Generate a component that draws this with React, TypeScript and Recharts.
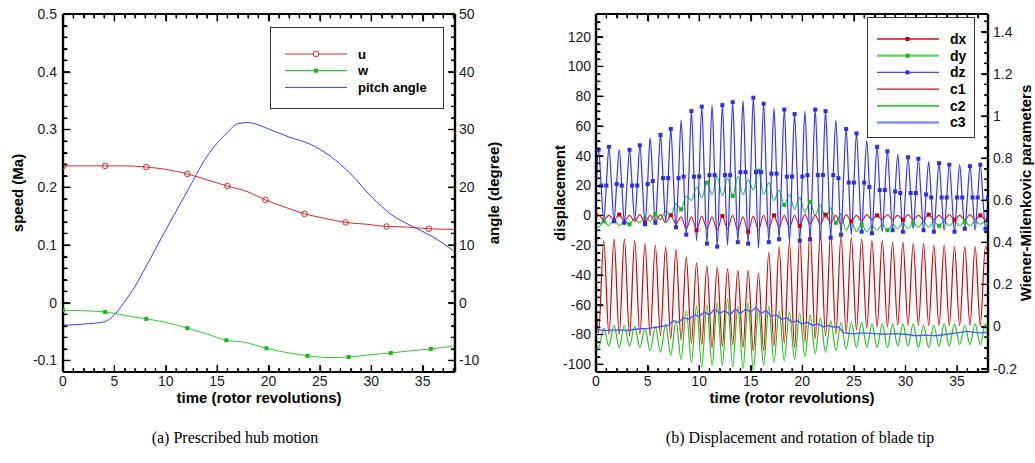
import { Line, LineChart, ReferenceLine, XAxis, YAxis } from 'recharts'

const SANS = '"Liberation Sans", Arial, Helvetica, sans-serif'
const SERIF = '"Liberation Serif", "Times New Roman", serif'

// ---------- (a) prescribed hub motion ----------
const U_T = [0, 2, 4.1, 6, 8.1, 10, 12.1, 14, 16, 18, 19.7, 22, 23.5, 25.5, 27.5, 29.5, 31.5, 33.5, 35.6, 38]
const U = [0.237, 0.237, 0.237, 0.237, 0.235, 0.231, 0.223, 0.213, 0.202, 0.192, 0.178, 0.163, 0.154, 0.146, 0.139, 0.136, 0.132, 0.131, 0.128, 0.127]
const W_T = [0, 2, 4.1, 6, 8.1, 10, 12.1, 14, 15.9, 17.5, 19.8, 22, 23.8, 26, 27.8, 30, 31.9, 34, 35.8, 38]
const W = [-0.013, -0.014, -0.016, -0.022, -0.028, -0.034, -0.044, -0.054, -0.065, -0.068, -0.079, -0.087, -0.092, -0.095, -0.094, -0.09, -0.087, -0.083, -0.08, -0.075]
const PITCH_T = [0, 2, 4, 5, 6, 7, 8, 10, 12, 14, 16, 17, 18, 19, 20, 22, 24, 26, 28, 30, 32, 34, 36, 38]
const PITCH = [-3.9, -3.7, -3.3, -2.1, 0.2, 2.8, 6.0, 12.6, 19.0, 25.3, 29.5, 31.0, 31.2, 30.8, 30.1, 28.7, 27.5, 25.4, 22.3, 18.4, 15.2, 13.2, 11.4, 9.0]

// ---------- (b) blade tip ----------
// quarter-revolution sample times
const QT = [
  0,
  0.25, 0.5, 0.75, 1, 1.25, 1.5, 1.75, 2, 2.25, 2.5, 2.75, 3, 3.25, 3.5, 3.75, 4,
  4.25, 4.5, 4.75, 5, 5.25, 5.5, 5.75, 6, 6.25, 6.5, 6.75, 7, 7.25, 7.5, 7.75, 8,
  8.25, 8.5, 8.75, 9, 9.25, 9.5, 9.75, 10, 10.25, 10.5, 10.75, 11, 11.25, 11.5, 11.75, 12,
  12.25, 12.5, 12.75, 13, 13.25, 13.5, 13.75, 14, 14.25, 14.5, 14.75, 15, 15.25, 15.5, 15.75, 16,
  16.25, 16.5, 16.75, 17, 17.25, 17.5, 17.75, 18, 18.25, 18.5, 18.75, 19, 19.25, 19.5, 19.75, 20,
  20.25, 20.5, 20.75, 21, 21.25, 21.5, 21.75, 22, 22.25, 22.5, 22.75, 23, 23.25, 23.5, 23.75, 24,
  24.25, 24.5, 24.75, 25, 25.25, 25.5, 25.75, 26, 26.25, 26.5, 26.75, 27, 27.25, 27.5, 27.75, 28,
  28.25, 28.5, 28.75, 29, 29.25, 29.5, 29.75, 30, 30.25, 30.5, 30.75, 31, 31.25, 31.5, 31.75, 32,
  32.25, 32.5, 32.75, 33, 33.25, 33.5, 33.75, 34, 34.25, 34.5, 34.75, 35, 35.25, 35.5, 35.75, 36,
  36.25, 36.5, 36.75, 37, 37.25, 37.5, 37.75, 38,
]

// dz: peak / mean level / trough of each revolution
const DZ_START = 15
const DZ_PEAK = [44, 46, 44, 44, 47, 52, 54, 58, 64, 70, 73, 74, 74, 76, 77, 79, 75, 72, 71, 68, 70, 71, 70, 64, 58, 55, 50, 46, 43, 41, 39, 38, 36, 35, 34, 34, 33, 34]
const DZ_MID = [20, 21, 20, 20, 21, 23, 25, 25, 26, 26, 27, 27, 27, 29, 29, 29, 28, 28, 26, 26, 27, 27, 27, 25, 22, 22, 19, 17, 16, 15, 15, 14, 12, 12, 12, 12, 12, 12]
const DZ_TROUGH = [-4, -4, -5, -3, -6, -5, -4, -8, -13, -17, -19, -21, -20, -18, -19, -22, -18, -16, -18, -17, -16, -17, -15, -13, -13, -11, -12, -11, -10, -11, -9, -10, -11, -10, -11, -9, -10, -9]

// values at k+0.25 (A) and k+0.75 (B) revolutions, plus start / end
const DX_A = [0, 0, 0.5, 0, 0.5, 0, 0.5, 0, -1, -1, -0.5, -1, -0.5, 0, -1, -0.5, 0, 0, 0, 0, 0.5, 0, 0.5, 0, 0.5, 0, 0.5, 0, 0.5, 0, 0.5, 0, 0.5, 0, 0.5, 0, 0.5, 0]
const DX_B = [-3, -3, -4, -4, -5, -4, -5, -6, -9, -10, -9, -10, -9, -10, -11, -10, -9, -8, -8, -7, -6, -6, -5, -6, -4, -4, -3, -3, -3, -3, -3, -3, -3, -3, -3, -3, -3, -3]
const DX_ENDS = [0, -1]
const DY_A = [-8, -7, -7, -6, -5, -4, -3, 0, 4, 10, 12, 14, 13, 13, 14, 17, 14, 10, 7, 4, 2, 0, -2, -5, -10, -11, -11, -10, -10, -9, -9, -8, -8, -7, -7, -7, -7, -6]
const DY_B = [-4, -3, -4, -2, -1, 1, 3, 8, 13, 19, 22, 26, 25, 26, 24, 30, 22, 17, 14, 12, 9, 7, 5, 1, -4, -6, -7, -6, -6, -5, -5, -4, -4, -4, -4, -4, -4, -4]
const DY_ENDS = [-7, -5]
const C1_A = [-0.03, -0.037, -0.037, -0.044, -0.037, -0.044, -0.044, -0.058, -0.065, -0.079, -0.086, -0.1, -0.093, -0.086, -0.1, -0.115, -0.115, -0.093, -0.079, -0.1, -0.072, -0.058, -0.044, -0.037, -0.03, -0.016, -0.009, -0.002, -0.002, 0.005, 0.005, 0.005, 0.005, 0.005, 0.005, 0.005, 0.005, 0.005]
const C1_B = [0.408, 0.415, 0.415, 0.408, 0.394, 0.387, 0.38, 0.366, 0.331, 0.302, 0.288, 0.281, 0.274, 0.267, 0.267, 0.253, 0.352, 0.38, 0.401, 0.423, 0.458, 0.451, 0.444, 0.43, 0.423, 0.415, 0.408, 0.408, 0.401, 0.401, 0.394, 0.394, 0.387, 0.387, 0.38, 0.38, 0.38, 0.38]
const C1_ENDS = [0.097, 0.35]
const C2_A = [-0.1, -0.093, -0.1, -0.093, -0.1, -0.115, -0.122, -0.136, -0.157, -0.171, -0.192, -0.185, -0.185, -0.192, -0.2, -0.207, -0.185, -0.171, -0.164, -0.157, -0.143, -0.129, -0.122, -0.115, -0.108, -0.1, -0.1, -0.1, -0.1, -0.093, -0.093, -0.1, -0.1, -0.093, -0.093, -0.086, -0.086, -0.086]
const C2_B = [-0.009, 0.006, 0.006, -0.001, -0.009, -0.001, 0.013, 0.027, 0.076, 0.097, 0.104, 0.112, 0.133, 0.097, 0.112, 0.083, 0.097, 0.076, 0.069, 0.062, 0.055, 0.041, 0.027, 0.02, 0.02, 0.02, 0.013, 0.013, 0.013, 0.013, 0.013, 0.006, 0.006, 0.013, 0.013, 0.006, 0.013, 0.013]
const C2_ENDS = [-0.086, -0.044]
const C3_T = [0, 1, 2, 3, 4, 5, 6, 7, 7.5, 8, 8.5, 9, 9.5, 10, 10.5, 11, 11.5, 12, 12.5, 13, 13.5, 14, 14.5, 15, 15.5, 16, 16.5, 17, 17.5, 18, 18.5, 19, 19.5, 20, 20.5, 21, 21.5, 22, 22.5, 23, 23.5, 24, 25, 26, 27, 28, 29, 30, 31, 32, 33, 34, 35, 36, 37, 38]
const C3 = [-0.016, -0.019, -0.016, -0.019, -0.012, -0.009, -0.002, 0.005, 0.027, 0.02, 0.041, 0.034, 0.055, 0.048, 0.069, 0.055, 0.083, 0.062, 0.076, 0.055, 0.083, 0.062, 0.083, 0.069, 0.09, 0.062, 0.076, 0.048, 0.055, 0.034, 0.041, 0.02, 0.027, 0.013, 0.02, 0.005, 0.013, -0.002, 0.005, -0.002, -0.002, -0.03, -0.034, -0.03, -0.034, -0.037, -0.034, -0.037, -0.044, -0.041, -0.044, -0.037, -0.03, -0.023, -0.03, -0.027]

type Row = { t: number; v: number }

const zip = (ts: number[], vs: number[]): Row[] => ts.map((t, i) => ({ t, v: vs[i] }))

function halfRows(a: number[], b: number[], ends: number[]): Row[] {
  const rows: Row[] = [{ t: QT[0], v: ends[0] }]
  a.forEach((va, k) => {
    rows.push({ t: QT[4 * k + 1], v: va })
    rows.push({ t: QT[4 * k + 3], v: b[k] })
  })
  rows.push({ t: QT[QT.length - 1], v: ends[1] })
  return rows
}

function dzRows(): Row[] {
  const rows: Row[] = [{ t: QT[0], v: DZ_START }]
  DZ_PEAK.forEach((p, k) => {
    rows.push({ t: QT[4 * k + 1], v: p })
    rows.push({ t: QT[4 * k + 2], v: DZ_MID[k] })
    rows.push({ t: QT[4 * k + 3], v: DZ_TROUGH[k] })
    rows.push({ t: QT[4 * k + 4], v: DZ_MID[k] })
  })
  return rows
}

function range(a: number, b: number, step: number) {
  const out: number[] = []
  const n = Math.floor((b - a) / step + 1e-6)
  for (let i = 0; i <= n; i++) out.push(+(a + i * step).toFixed(4))
  return out
}

const isMajor = (v: number, step: number) => Math.abs(v / step - Math.round(v / step)) < 1e-6

type Side = 'left' | 'right' | 'bottom' | 'top'

// tick labels (plus a short inward tick)
function makeTick(side: Side, step: number, fmt: (v: number) => string, gap: number) {
  return function AxisTick(props: any) {
    const { x, y, payload, index } = props
    const v = Number(payload.value)
    const major = isMajor(v, step)
    const len = major ? 7 : 4
    const px = Math.round(x) + 0.5
    const py = Math.round(y) + 0.5
    let x2 = px
    let y2 = py
    let label = null
    if (side === 'left') {
      x2 = px + len
      if (major) label = <text x={x - gap} y={y} dy="0.35em" textAnchor="end">{fmt(v)}</text>
    } else if (side === 'right') {
      x2 = px - len
      if (major) label = <text x={x + gap} y={y} dy="0.35em" textAnchor="start">{fmt(v)}</text>
    } else if (side === 'bottom') {
      y2 = py - len
      if (major) label = <text x={x} y={y + gap} dy="0.35em" textAnchor="middle">{fmt(v)}</text>
    } else {
      y2 = py + len
    }
    return (
      <g key={`${side}-${index}`}>
        <line x1={px} y1={py} x2={x2} y2={y2} stroke="#000" strokeWidth={1.2} />
        {label && <g fill="#1a1a1a" fontSize={14} fontFamily={SANS}>{label}</g>}
      </g>
    )
  }
}

type FrameSpec = {
  x: [number, number]
  yl: [number, number]
  yr: [number, number]
  xTicks: number[]
  ylTicks: number[]
  yrTicks: number[]
  xStep: number
  ylStep: number
  yrStep: number
  w: number
  h: number
}

// frame + inward tick marks drawn in data space through the chart's own axes
function frameMarks(f: FrameSpec) {
  const dx = (f.x[1] - f.x[0]) / f.w
  const dyl = (f.yl[1] - f.yl[0]) / f.h
  const dyr = (f.yr[1] - f.yr[0]) / f.h
  const out: JSX.Element[] = []
  const seg = (key: string, yId: string, p: [number, number, number, number], w = 1.2) =>
    out.push(
      <ReferenceLine key={key} xAxisId="b" yAxisId={yId} ifOverflow="visible" stroke="#000" strokeWidth={w}
        segment={[{ x: p[0], y: p[1] }, { x: p[2], y: p[3] }]} />,
    )
  f.xTicks.forEach((t) => {
    const len = isMajor(t, f.xStep) ? 7 : 4
    seg(`xb${t}`, 'l', [t, f.yl[0], t, f.yl[0] + len * dyl])
    seg(`xt${t}`, 'l', [t, f.yl[1], t, f.yl[1] - len * dyl])
  })
  f.ylTicks.forEach((v) => {
    const len = isMajor(v, f.ylStep) ? 7 : 4
    seg(`yl${v}`, 'l', [f.x[0], v, f.x[0] + len * dx, v])
  })
  f.yrTicks.forEach((v) => {
    const len = isMajor(v, f.yrStep) ? 7 : 4
    seg(`yr${v}`, 'r', [f.x[1], v, f.x[1] - len * dx, v])
  })
  seg('fb', 'l', [f.x[0], f.yl[0], f.x[1], f.yl[0]], 2.2)
  seg('ft', 'l', [f.x[0], f.yl[1], f.x[1], f.yl[1]], 2.2)
  seg('fl', 'l', [f.x[0], f.yl[0], f.x[0], f.yl[1]], 2.2)
  seg('fr', 'l', [f.x[1], f.yl[0], f.x[1], f.yl[1]], 2.2)
  return out
}

const AXIS = { stroke: '#000', strokeWidth: 2.2 }
const fmtNum = (v: number) => String(+v.toFixed(2))

function squareDot(color: string, size: number, show: (i: number) => boolean) {
  return (props: any) => {
    const { cx, cy, index } = props
    if (!show(index) || cx == null || cy == null) return <g key={`n${index}`} />
    return <rect key={`s${index}`} x={cx - size / 2} y={cy - size / 2} width={size} height={size} fill={color} />
  }
}

function circleDot(color: string, show: (i: number) => boolean) {
  return (props: any) => {
    const { cx, cy, index } = props
    if (!show(index) || cx == null || cy == null) return <g key={`n${index}`} />
    return <circle key={`c${index}`} cx={cx} cy={cy} r={2.8} fill="none" stroke={color} strokeWidth={1} />
  }
}

const titleStyle = (cx: number, cy: number, vertical: boolean): React.CSSProperties => ({
  position: 'absolute',
  left: cx,
  top: cy,
  transform: `translate(-50%, -50%)${vertical ? ' rotate(-90deg)' : ''}`,
  whiteSpace: 'nowrap',
  fontFamily: SANS,
  fontWeight: 'bold',
  fontSize: 15,
  color: '#000',
})

function ChartA() {
  const xTicks = range(0, 38, 1)
  const ylTicks = range(-0.1, 0.5, 0.02)
  const yrTicks = range(-10, 50, 2)
  const even = (i: number) => i % 2 === 0 && i < 19
  return (
    <LineChart width={520} height={400} margin={{ top: 13, right: 0, bottom: 0, left: 0 }}>
      <XAxis xAxisId="b" dataKey="t" type="number" domain={[0, 38.15]} allowDataOverflow ticks={xTicks} interval={0}
        tick={makeTick('bottom', 5, fmtNum, 9.5)} tickLine={false} tickSize={0} tickMargin={0} axisLine={AXIS} height={28} />
      <XAxis xAxisId="top" dataKey="t" orientation="top" type="number" domain={[0, 38.15]} allowDataOverflow ticks={xTicks} interval={0}
        tick={makeTick('top', 5, fmtNum, 0)} tickLine={false} tickSize={0} tickMargin={0} axisLine={AXIS} height={1} />
      <YAxis yAxisId="l" type="number" domain={[-0.12, 0.5]} allowDataOverflow ticks={ylTicks} interval={0}
        tick={makeTick('left', 0.1, (v) => (v === 0 ? '0' : v.toFixed(1)), 6)} tickLine={false} tickSize={0} tickMargin={0} axisLine={AXIS} width={63} />
      <YAxis yAxisId="r" orientation="right" type="number" domain={[-12, 50]} allowDataOverflow ticks={yrTicks} interval={0}
        tick={makeTick('right', 10, fmtNum, 4)} tickLine={false} tickSize={0} tickMargin={0} axisLine={AXIS} width={65} />
      {frameMarks({ x: [0, 38.15], yl: [-0.12, 0.5], yr: [-12, 50], xTicks, ylTicks, yrTicks, xStep: 5, ylStep: 0.1, yrStep: 10, w: 392, h: 358 })}
      <Line xAxisId="b" yAxisId="r" data={zip(PITCH_T, PITCH)} dataKey="v" type="monotone" stroke="#3a3aff" strokeWidth={1}
        dot={false} activeDot={false} isAnimationActive={false} />
      <Line xAxisId="b" yAxisId="l" data={zip(W_T, W)} dataKey="v" type="monotone" stroke="#2ccc2c" strokeWidth={1}
        dot={squareDot('#11bb11', 4, even)} activeDot={false} isAnimationActive={false} />
      <Line xAxisId="b" yAxisId="l" data={zip(U_T, U)} dataKey="v" type="monotone" stroke="#e02828" strokeWidth={1}
        dot={circleDot('#e02828', even)} activeDot={false} isAnimationActive={false} />
    </LineChart>
  )
}

function ChartB() {
  const xTicks = range(0, 38, 1)
  const ylTicks = range(-100, 130, 5)
  const yrTicks = range(-0.2, 1.45, 0.05)
  return (
    <LineChart width={515} height={400} margin={{ top: 13, right: 0, bottom: 0, left: 0 }}>
      <XAxis xAxisId="b" dataKey="t" type="number" domain={[0, 38]} allowDataOverflow ticks={xTicks} interval={0}
        tick={makeTick('bottom', 5, fmtNum, 9.5)} tickLine={false} tickSize={0} tickMargin={0} axisLine={AXIS} height={28} />
      <XAxis xAxisId="top" dataKey="t" orientation="top" type="number" domain={[0, 38]} allowDataOverflow ticks={xTicks} interval={0}
        tick={makeTick('top', 5, fmtNum, 0)} tickLine={false} tickSize={0} tickMargin={0} axisLine={AXIS} height={1} />
      <YAxis yAxisId="l" type="number" domain={[-105.2, 135.2]} allowDataOverflow ticks={ylTicks} interval={0}
        tick={makeTick('left', 20, fmtNum, 5)} tickLine={false} tickSize={0} tickMargin={0} axisLine={AXIS} width={76} />
      <YAxis yAxisId="r" orientation="right" type="number" domain={[-0.216, 1.484]} allowDataOverflow ticks={yrTicks} interval={0}
        tick={makeTick('right', 0.2, (v) => String(+v.toFixed(1)), 5)} tickLine={false} tickSize={0} tickMargin={0} axisLine={AXIS} width={47} />
      {frameMarks({ x: [0, 38], yl: [-105.2, 135.2], yr: [-0.216, 1.484], xTicks, ylTicks, yrTicks, xStep: 5, ylStep: 20, yrStep: 0.2, w: 392, h: 358 })}
      <Line xAxisId="b" yAxisId="r" data={halfRows(C1_A, C1_B, C1_ENDS)} dataKey="v" type="monotone" stroke="#d40000" strokeWidth={1.2}
        dot={false} activeDot={false} isAnimationActive={false} />
      <Line xAxisId="b" yAxisId="r" data={halfRows(C2_A, C2_B, C2_ENDS)} dataKey="v" type="monotone" stroke="#1ec81e" strokeWidth={1.2}
        dot={false} activeDot={false} isAnimationActive={false} />
      <Line xAxisId="b" yAxisId="r" data={zip(C3_T, C3)} dataKey="v" type="linear" stroke="#4a5cff" strokeWidth={1.4}
        dot={false} activeDot={false} isAnimationActive={false} />
      <Line xAxisId="b" yAxisId="l" data={halfRows(DY_A, DY_B, DY_ENDS)} dataKey="v" type="monotone" stroke="#2ccc2c" strokeWidth={1.2}
        dot={squareDot('#11bb11', 4, (i) => i % 5 === 2)} activeDot={false} isAnimationActive={false} />
      <Line xAxisId="b" yAxisId="l" data={halfRows(DX_A, DX_B, DX_ENDS)} dataKey="v" type="monotone" stroke="#dd1a1a" strokeWidth={1.1}
        dot={squareDot('#cc0000', 4, (i) => i % 5 === 0)} activeDot={false} isAnimationActive={false} />
      <Line xAxisId="b" yAxisId="l" data={dzRows()} dataKey="v" type="monotone" stroke="#3535ff" strokeWidth={1.2}
        dot={squareDot('#2a2aff', 4, (i) => i % 3 !== 0)} activeDot={false} isAnimationActive={false} />
    </LineChart>
  )
}

const LEGEND_A = [
  { name: 'u', color: '#e02828', width: 1.2, marker: 'circle' },
  { name: 'w', color: '#2ccc2c', width: 1.2, marker: 'square' },
  { name: 'pitch angle', color: '#3a3aff', width: 1, marker: 'none' },
]

const LEGEND_B = [
  { name: 'dx', color: '#cc1111', width: 1.4, marker: 'square', markColor: '#cc0000' },
  { name: 'dy', color: '#55d855', width: 2.2, marker: 'square', markColor: '#11bb11' },
  { name: 'dz', color: '#4848ff', width: 1.4, marker: 'square', markColor: '#2a2aff' },
  { name: 'c1', color: '#cc1111', width: 1.4, marker: 'none', markColor: '' },
  { name: 'c2', color: '#33cc33', width: 1.8, marker: 'none', markColor: '' },
  { name: 'c3', color: '#8090ff', width: 2.4, marker: 'none', markColor: '' },
]

export default function App() {
  return (
    <div style={{ position: 'absolute', left: 0, top: 0, width: 1035, height: 463, background: '#fff', overflow: 'hidden' }}>
      <div style={{ position: 'absolute', left: 0, top: 0 }}>
        <ChartA />
      </div>
      <div style={{ position: 'absolute', left: 520, top: 0 }}>
        <ChartB />
      </div>

      <svg style={{ position: 'absolute', left: 270, top: 27 }} width={174} height={82}>
        <rect x={0.5} y={0.5} width={173} height={81} fill="#fff" stroke="#333" strokeWidth={1} />
        {LEGEND_A.map((it, i) => {
          const y = 27 + i * 16.7
          return (
            <g key={it.name}>
              <line x1={15} y1={y} x2={77} y2={y} stroke={it.color} strokeWidth={it.width} />
              {it.marker === 'circle' && <circle cx={46} cy={y} r={2.8} fill="#fff" stroke={it.color} />}
              {it.marker === 'square' && <rect x={44} y={y - 2} width={4} height={4} fill="#11bb11" />}
              <text x={88} y={y} dy="0.35em" fontFamily={SANS} fontWeight="bold" fontSize={13}>{it.name}</text>
            </g>
          )
        })}
      </svg>

      <svg style={{ position: 'absolute', left: 867, top: 17 }} width={108} height={121}>
        <rect x={0.5} y={0.5} width={107} height={120} fill="#fff" stroke="#333" strokeWidth={1} />
        {LEGEND_B.map((it, i) => {
          const y = 22 + i * 16.7
          return (
            <g key={it.name}>
              <line x1={10} y1={y} x2={72} y2={y} stroke={it.color} strokeWidth={it.width} />
              {it.marker === 'square' && <rect x={38.5} y={y - 2} width={4} height={4} fill={it.markColor} />}
              <text x={83} y={y} dy="0.35em" fontFamily={SANS} fontWeight="bold" fontSize={14}>{it.name}</text>
            </g>
          )
        })}
      </svg>

      <div style={titleStyle(259, 397, false)}>time (rotor revolutions)</div>
      <div style={titleStyle(17, 193, true)}>speed (Ma)</div>
      <div style={titleStyle(493, 193, true)}>angle (degree)</div>
      <div style={titleStyle(792, 397, false)}>time (rotor revolutions)</div>
      <div style={titleStyle(559, 193, true)}>displacement</div>
      <div style={titleStyle(1025, 193, true)}>Wiener-Milenkovic parameters</div>

      <div style={{ position: 'absolute', left: 235, top: 438, transform: 'translate(-50%, -50%)', whiteSpace: 'nowrap', fontFamily: SERIF, fontSize: 16 }}>
        (a) Prescribed hub motion
      </div>
      <div style={{ position: 'absolute', left: 800, top: 438, transform: 'translate(-50%, -50%)', whiteSpace: 'nowrap', fontFamily: SERIF, fontSize: 16 }}>
        (b) Displacement and rotation of blade tip
      </div>
    </div>
  )
}
